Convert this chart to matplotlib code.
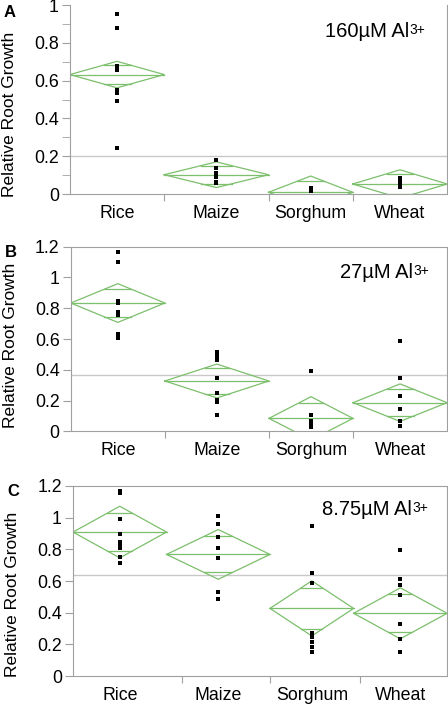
import matplotlib
matplotlib.use("Agg")
import matplotlib.pyplot as plt
import numpy as np

plt.rcParams['font.family'] = ['Liberation Sans', 'DejaVu Sans']

crops = ['Rice', 'Maize', 'Sorghum', 'Wheat']
# relative group widths on the x axis (JMP scales width by group size)
group_widths = [94, 104, 84, 94]

panel_letters = ['A', 'B', 'C']
panel_titles = ['160µM Al', '27µM Al', '8.75µM Al']
title_sup = '3+'
grand_means = [0.200, 0.366, 0.636]

# means, 95% CI half widths and overlap-mark half widths per crop
means_A = [0.632, 0.102, 0.009, 0.053]
ci_A = [0.070, 0.068, 0.086, 0.075]
ovl_A = [0.050, 0.048, 0.058, 0.054]
means_B = [0.834, 0.327, 0.084, 0.186]
ci_B = [0.126, 0.110, 0.141, 0.122]
ovl_B = [0.090, 0.084, 0.100, 0.087]
means_C = [0.909, 0.768, 0.427, 0.396]
ci_C = [0.163, 0.157, 0.174, 0.161]
ovl_C = [0.120, 0.114, 0.130, 0.120]

# individual observations
rice_A = [0.954, 0.876, 0.676, 0.655, 0.552, 0.532, 0.494, 0.243]
maize_A = [0.179, 0.135, 0.109, 0.091, 0.065, 0.056]
sorghum_A = [0.030, 0.018]
wheat_A = [0.086, 0.065, 0.047, 0.035]

rice_B = [1.167, 1.100, 0.849, 0.836, 0.773, 0.756, 0.632, 0.606]
maize_B = [0.513, 0.492, 0.466, 0.349, 0.247, 0.204, 0.188, 0.104]
sorghum_B = [0.394, 0.106, 0.069, 0.052, 0.026]
wheat_B = [0.587, 0.349, 0.230, 0.145, 0.067, 0.032]

rice_C = [1.166, 1.158, 0.994, 0.897, 0.848, 0.832, 0.811, 0.754, 0.712]
maize_C = [1.011, 0.958, 0.878, 0.808, 0.747, 0.531, 0.488]
sorghum_C = [0.949, 0.648, 0.589, 0.269, 0.248, 0.217, 0.185, 0.149]
wheat_C = [0.796, 0.615, 0.575, 0.514, 0.326, 0.234, 0.154]

panels = [
    (means_A, ci_A, ovl_A, [rice_A, maize_A, sorghum_A, wheat_A]),
    (means_B, ci_B, ovl_B, [rice_B, maize_B, sorghum_B, wheat_B]),
    (means_C, ci_C, ovl_C, [rice_C, maize_C, sorghum_C, wheat_C]),
]
y_tops = [1.0, 1.2, 1.2]
# x tick marks (category separators); panel C's are offset in the original
tick_widths = [[94, 104, 84], [94, 104, 84], [110, 88, 90]]

# axes rectangles [left, bottom, width, height] in figure fractions
rects = [
    [0.156, 0.7256, 0.842, 0.2673],
    [0.158, 0.390, 0.840, 0.261],
    [0.163, 0.0438, 0.835, 0.2688],
]
ylabel_y = [0.42, 0.465, 0.43]
title_x = [0.675, 0.715, 0.665]
title_y = [0.86, 0.86, 0.875]

diamond_color = '#7cbf6c'
spine_color = '#a0a0a0'

fig = plt.figure(figsize=(4.48, 7.07), dpi=100)
edges = np.concatenate([[0], np.cumsum(group_widths)])
centers = (edges[:-1] + edges[1:]) / 2

for p in range(3):
    means, ci, ovl, obs = panels[p]
    ax = fig.add_axes(rects[p])
    ax.set_xlim(0, edges[-1])
    ax.set_ylim(0, y_tops[p])

    ax.axhline(grand_means[p], color='#c8c8c8', lw=1, zorder=1)

    for i in range(len(crops)):
        x0, x1, xc = edges[i], edges[i + 1], centers[i]
        m, c, o = means[i], ci[i], ovl[i]
        ax.plot([x0, xc, x1, xc, x0], [m, m + c, m, m - c, m],
                color=diamond_color, lw=0.9, zorder=2)
        ax.plot([x0, x1], [m, m], color=diamond_color, lw=0.9, zorder=2)
        hw = (x1 - x0) / 2 * (1 - o / c)
        for yy in (m + o, m - o):
            ax.plot([xc - hw, xc + hw], [yy, yy], color=diamond_color, lw=0.9, zorder=2)
        ax.plot([xc] * len(obs[i]), obs[i], 's', color='black', ms=2.6,
                mew=0, zorder=3)

    ax.set_xticks(np.cumsum(tick_widths[p]))
    ax.set_xticklabels([])
    ax.set_xticks(centers, minor=True)
    ax.set_xticklabels(crops, minor=True, fontsize=12.8)
    ax.tick_params(axis='x', which='minor', length=0, pad=8)
    ax.tick_params(axis='x', which='major', length=5, color=spine_color)

    yt = np.arange(0, y_tops[p] + 0.001, 0.2)
    ax.set_yticks(yt)
    ax.set_yticklabels(['%g' % v for v in yt], fontsize=12.8)
    if p == 0:
        ax.set_yticks(np.arange(0.1, 1.0, 0.2), minor=True)
        ax.tick_params(axis='y', which='minor', length=6, color=spine_color)
    ax.tick_params(axis='y', which='major', length=6, color=spine_color, pad=2)

    for side in ['left', 'bottom', 'right', 'top']:
        ax.spines[side].set_color(spine_color)
    ax.spines['top'].set_visible(p != 0)

    ax.set_ylabel('Relative Root Growth', fontsize=12.5)
    ax.yaxis.set_label_coords(-0.141, ylabel_y[p])

    t = ax.text(title_x[p], title_y[p], panel_titles[p], transform=ax.transAxes,
                ha='left', va='center', fontsize=14.5)
    ax.annotate(title_sup, xy=(1, 0.95), xycoords=t, xytext=(0.5, 0),
                textcoords='offset points', ha='left', va='top', fontsize=10)
    ax.text(-0.175, 0.96 if p == 0 else 0.97, panel_letters[p], transform=ax.transAxes,
            ha='left', va='center', fontsize=12, fontweight='bold')

fig.savefig('out.png', dpi=100)
